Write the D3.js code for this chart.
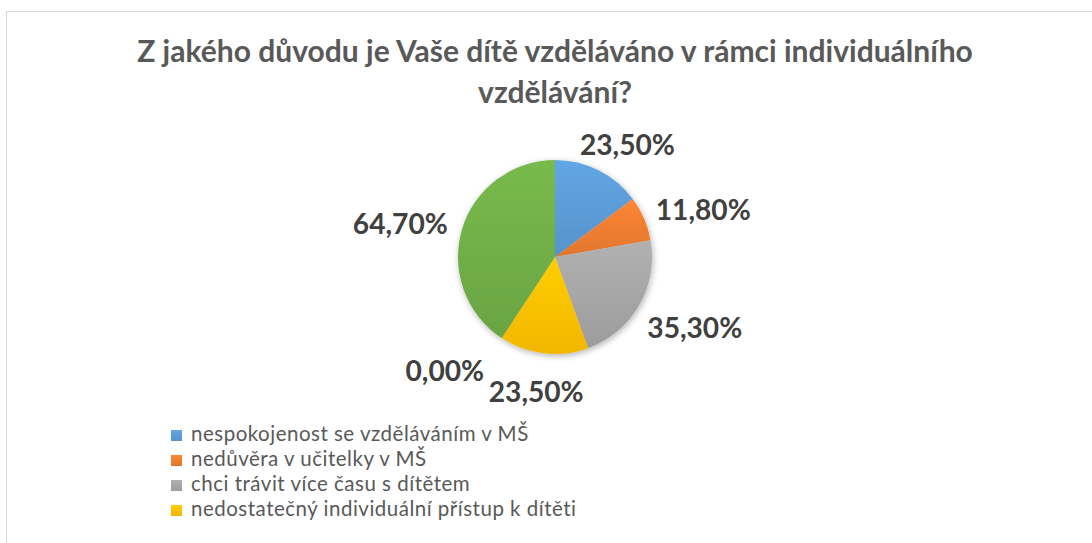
<!DOCTYPE html>
<html lang="cs">
<head>
<meta charset="utf-8">
<script src="https://d3js.org/d3.v7.min.js"></script>
<style>
    body { margin: 0; background: #fff; }
    text { font-family: Lato, "Open Sans", sans-serif; }
</style>
</head>
<body>
<svg id="chart" width="1092" height="543"></svg>
<script>
    // data
    const titleLines = ["Z jakého důvodu je Vaše dítě vzděláváno v rámci individuálního", "vzdělávání?"];
    const categories = [
        "nespokojenost se vzděláváním v MŠ",
        "nedůvěra v učitelky v MŠ",
        "chci trávit více času s dítětem",
        "nedostatečný individuální přístup k dítěti",
        "",
        ""
    ];
    const values = [23.5, 11.8, 35.3, 23.5, 0.0, 64.7];
    const colors = ["#5b9bd5", "#ed7d31", "#a5a5a5", "#ffc000", "#4472c4", "#70ad47"];

    const width = 1092, height = 543;
    const cx = 555, cy = 257, radius = 97;

    const svg = d3.select("#chart");
    const defs = svg.append("defs");

    // shrink/grow a text selection so that its first element has the given width
    function fitWidth(sel, target) {
        const w = sel.node().getComputedTextLength();
        const fs = +sel.attr("font-size");
        sel.attr("font-size", fs * target / w);
    }

    // outer frame
    svg.append("rect")
        .attr("x", 6.5).attr("y", 11.5)
        .attr("width", width).attr("height", height)
        .attr("fill", "none")
        .attr("stroke", "#d9d9d9");

    // title
    const title = svg.append("g").selectAll("text")
        .data(titleLines)
        .enter().append("text")
        .attr("x", cx)
        .attr("y", (d, i) => 62 + i * 41)
        .attr("text-anchor", "middle")
        .attr("font-size", 27)
        .attr("font-weight", "bold")
        .attr("fill", "#595959")
        .text(d => d);
    fitWidth(title, 836);

    // gradients + shadow
    colors.forEach((c, i) => {
        const g = defs.append("linearGradient")
            .attr("id", "grad" + i)
            .attr("x1", 0).attr("y1", 0).attr("x2", 0).attr("y2", 1);
        g.append("stop").attr("offset", "0%").attr("stop-color", d3.color(c).brighter(0.2));
        g.append("stop").attr("offset", "100%").attr("stop-color", d3.color(c).darker(0.15));
    });
    const shadow = defs.append("filter").attr("id", "shadow")
        .attr("x", "-20%").attr("y", "-20%").attr("width", "140%").attr("height", "140%");
    shadow.append("feDropShadow")
        .attr("dx", 1).attr("dy", 2).attr("stdDeviation", 3)
        .attr("flood-color", "#000").attr("flood-opacity", 0.3);

    const pie = d3.pie().sort(null).value(d => d);
    const arcs = pie(values);
    const arc = d3.arc().innerRadius(0).outerRadius(radius);

    const pieG = svg.append("g").attr("transform", `translate(${cx},${cy})`);
    pieG.append("g").attr("filter", "url(#shadow)")
        .selectAll("path")
        .data(arcs)
        .enter().append("path")
        .attr("d", arc)
        .attr("fill", (d, i) => `url(#grad${i})`);

    // data labels, outside end
    const fmt = v => v.toFixed(2).replace(".", ",") + "%";
    const labels = pieG.append("g").selectAll("text")
        .data(arcs)
        .enter().append("text")
        .attr("font-size", 28)
        .attr("font-weight", "bold")
        .attr("fill", "#404040")
        .attr("text-anchor", "middle")
        .text(d => fmt(d.data));
    fitWidth(labels, 95);

    const pad = 17;
    const boxes = [];
    labels.each(function (d) {
        const w = this.getComputedTextLength(), h = 34;
        const a = (d.startAngle + d.endAngle) / 2;
        const s = Math.sin(a), c = Math.cos(a);
        let x = (radius + pad) * s + s * w / 2;
        let y = -(radius + pad) * c - c * h / 2 + 5;
        const overlaps = () => boxes.some(b =>
            Math.abs(b.x - x) < (b.w + w) / 2 + 4 && Math.abs(b.y - y) < 22);
        let n = 0;
        while (overlaps() && n < 200) { x += s < 0 ? -1 : 1; n++; }
        boxes.push({ x, y, w });
        d3.select(this).attr("x", x).attr("y", y + 10);
    });

    // legend (only the visible entries)
    const legendItems = categories.map((name, i) => ({ name, i })).filter(d => d.name);
    const legend = svg.append("g").attr("transform", "translate(171,430)");
    const rows = legend.selectAll("g")
        .data(legendItems)
        .enter().append("g")
        .attr("transform", (d, k) => `translate(0,${k * 25})`);
    rows.append("rect")
        .attr("width", 11).attr("height", 11)
        .attr("fill", d => `url(#grad${d.i})`);
    rows.append("text")
        .attr("x", 20).attr("y", 10.5)
        .attr("font-size", 20.5)
        .attr("letter-spacing", 0.5)
        .attr("fill", "#595959")
        .text(d => d.name);
</script>
</body>
</html>
